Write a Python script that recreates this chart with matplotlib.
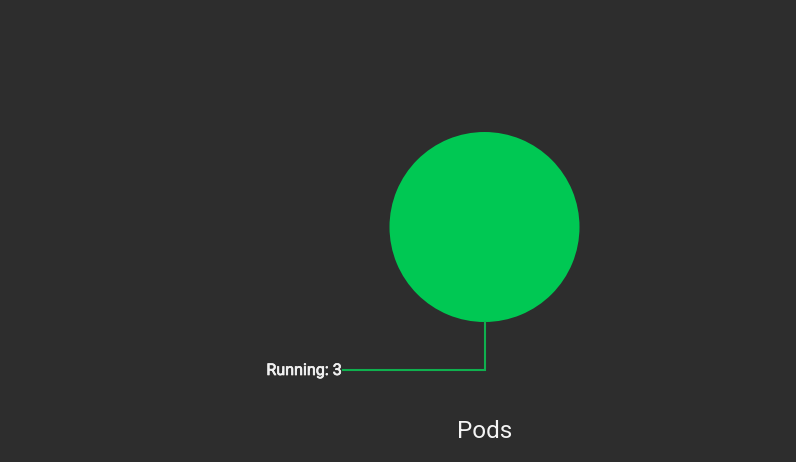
import matplotlib.pyplot as plt
import matplotlib.patheffects as pe
import numpy as np

# данные
labels = ['Running']
counts = [3]
title = 'Pods'
colors = ['#00c853']
line_colors = ['#0fb04e']

bg = '#2d2d2d'
W, H = 796, 462

fig = plt.figure(figsize=(W / 100, H / 100), dpi=100, facecolor=bg)
ax = fig.add_axes([0, 0, 1, 1])
ax.set_facecolor(bg)
ax.axis('off')

cx, cy, r = 484.5, 227, 95
wedges, _ = ax.pie(counts, colors=colors, center=(cx, cy), radius=r,
                   startangle=90, counterclock=False,
                   wedgeprops=dict(linewidth=0))
ax.set_xlim(0, W)
ax.set_ylim(H, 0)
ax.set_aspect('equal')

# подпись с выноской от нижней точки круга
for i, (lab, val) in enumerate(zip(labels, counts)):
    x0, y0 = cx, cy + r
    y1 = y0 + 48
    x1 = cx - 142
    ax.plot([x0, x0, x1], [y0, y1, y1], color=line_colors[i], lw=1.5,
            solid_joinstyle='miter')
    ax.text(x1 - 1, y1 + 0.5, f'{lab}: {val}', color='#f0f0f0', ha='right',
            va='center', fontsize=11.6, family='Roboto',
            path_effects=[pe.withStroke(linewidth=0.5, foreground='#f0f0f0')])

ax.text(cx, 431, title, color='#f5f5f5', ha='center', va='center',
        fontsize=17.5, family='Roboto')

fig.savefig('out.png', dpi=100, facecolor=bg)
